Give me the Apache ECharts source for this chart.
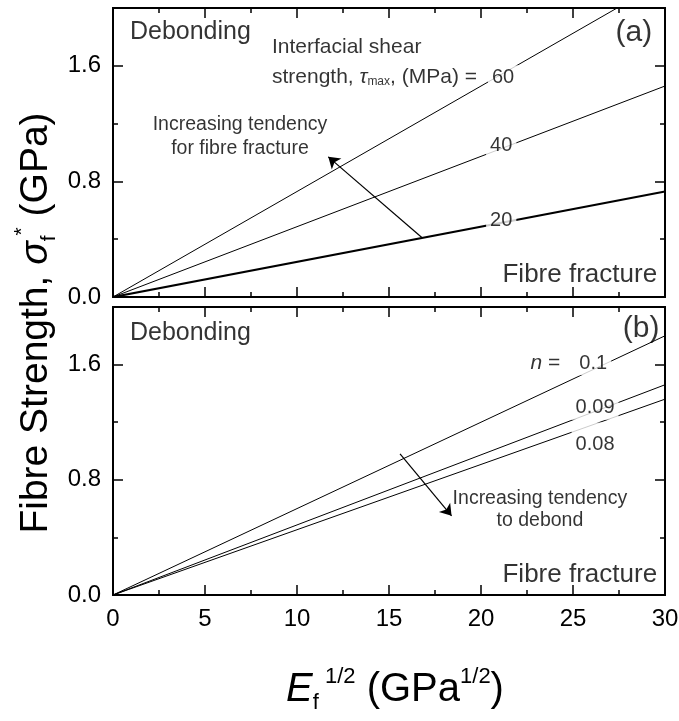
<!DOCTYPE html>
<html>
<head>
<meta charset="utf-8">
<script src="https://cdn.jsdelivr.net/npm/echarts@6/dist/echarts.min.js"></script>
<style>
html, body { margin: 0; padding: 0; background: #fff; }
#chart { width: 679px; height: 721px; }
</style>
</head>
<body>
<div id="chart"></div>
<script>
var FONT = '"Liberation Sans", Arial, sans-serif';

// data
var xExtent = [0, 30];
var yExtent = [0, 2.0];
var tauValues = ['20', '40', '60'];       // MPa, panel (a)
var tauAt30 = [0.73, 1.46, 2.19];         // sigma_f* at E^1/2 = 30
var nValues = ['0.1', '0.09', '0.08'];    // panel (b)
var nAt30 = [1.80, 1.46, 1.36];

var grids = [
    { left: 113, top: 8, width: 552, height: 289, outerBoundsMode: 'none' },
    { left: 113, top: 307, width: 552, height: 288, outerBoundsMode: 'none' }
];

function xAx(grid, pos, labels) {
    return {
        type: 'value', gridIndex: grid, position: pos,
        min: xExtent[0], max: xExtent[1], interval: 5,
        axisLine: { show: true, onZero: false, lineStyle: { color: '#000', width: 2 } },
        axisTick: { show: true, inside: true, length: 10, lineStyle: { color: '#000', width: 1.5 } },
        minorTick: { show: true, splitNumber: 2, length: 5, lineStyle: { color: '#000', width: 1.5 } },
        axisLabel: { show: labels, margin: 12, fontSize: 24, color: '#000', fontFamily: FONT },
        splitLine: { show: false }, minorSplitLine: { show: false }
    };
}

function yAx(grid, pos, major, labels) {
    return {
        type: 'value', gridIndex: grid, position: pos,
        min: yExtent[0], max: yExtent[1], interval: major ? 0.8 : 0.4,
        axisLine: { show: true, onZero: false, lineStyle: { color: '#000', width: 2 } },
        axisTick: { show: true, inside: true, length: major ? 10 : 5, lineStyle: { color: '#000', width: 1.5 } },
        axisLabel: {
            show: labels, margin: 12, fontSize: 24, color: '#000', fontFamily: FONT,
            formatter: function (v) {
                return Math.round(v * 10) % 8 === 0 ? v.toFixed(1) : '';
            }
        },
        splitLine: { show: false }
    };
}

var xAxes = [xAx(0, 'bottom', false), xAx(0, 'top', false), xAx(1, 'bottom', true), xAx(1, 'top', false)];
var yAxes = [];
[0, 1].forEach(function (g) {
    yAxes.push(yAx(g, 'left', true, true));
    yAxes.push(yAx(g, 'left', false, false));
    yAxes.push(yAx(g, 'right', true, false));
    yAxes.push(yAx(g, 'right', false, false));
});

var rich = {
    i: { fontStyle: 'italic', fontFamily: FONT, fontSize: 21, color: '#000' },
    s: { fontFamily: FONT, fontSize: 12, color: '#000', verticalAlign: 'bottom', lineHeight: 14 }
};

function note(x, y, text, opts) {
    return {
        value: [x, y],
        label: Object.assign({
            show: true, formatter: text, position: 'inside', align: 'left', verticalAlign: 'middle',
            color: '#000', fontFamily: FONT, fontSize: 21, rich: rich
        }, opts || {})
    };
}

var numBox = { align: 'center', fontSize: 20, backgroundColor: '#fff', padding: [2, 4] };

function arrow(from, to) {
    return {
        silent: true, symbol: ['none', 'arrow'], symbolSize: 11,
        lineStyle: { color: '#000', width: 1.2, type: 'solid' },
        label: { show: false }, animation: false,
        data: [[{ coord: from }, { coord: to }]]
    };
}

var series = [];
tauValues.forEach(function (t, k) {
    series.push({
        name: 'tau ' + t, type: 'line', xAxisIndex: 0, yAxisIndex: 0,
        data: [[xExtent[0], 0], [xExtent[1], tauAt30[k]]],
        symbol: 'none', lineStyle: { color: '#000', width: k === 0 ? 2.2 : 1 }, z: 2
    });
});
nValues.forEach(function (n, k) {
    series.push({
        name: 'n ' + n, type: 'line', xAxisIndex: 2, yAxisIndex: 4,
        data: [[xExtent[0], 0], [xExtent[1], nAt30[k]]],
        symbol: 'none', lineStyle: { color: '#000', width: 1 }, z: 2
    });
});

series.push({
    type: 'scatter', xAxisIndex: 0, yAxisIndex: 0, symbolSize: 0, z: 5, silent: true,
    data: [
        note(0.92, 1.83, 'Debonding', { fontSize: 25 }),
        note(29.3, 1.83, '(a)', { align: 'right', fontSize: 30 }),
        note(8.64, 1.73, 'Interfacial shear'),
        note(8.64, 1.52, 'strength, {i|τ}{s|max}, (MPa) = '),
        note(21.2, 1.52, tauValues[2], numBox),
        note(21.1, 1.05, tauValues[1], numBox),
        note(21.1, 0.53, tauValues[0], numBox),
        note(6.9, 1.11, 'Increasing tendency\nfor fibre fracture', { align: 'center', fontSize: 19.5, lineHeight: 24 }),
        note(29.57, 0.152, 'Fibre fracture', { align: 'right', fontSize: 26 })
    ],
    markLine: arrow([16.8, 0.41], [11.7, 0.97])
});

series.push({
    type: 'scatter', xAxisIndex: 2, yAxisIndex: 4, symbolSize: 0, z: 5, silent: true,
    data: [
        note(0.92, 1.82, 'Debonding', { fontSize: 25 }),
        note(29.7, 1.85, '(b)', { align: 'right', fontSize: 30 }),
        note(23.5, 1.61, '{i|n} =', { align: 'center' }),
        note(26.1, 1.61, nValues[0], numBox),
        note(26.2, 1.30, nValues[1], numBox),
        note(26.2, 1.08, nValues[2], Object.assign({}, numBox, { padding: [12, 4, 2, 4] })),
        note(23.2, 0.59, 'Increasing tendency\nto debond', { align: 'center', fontSize: 19.5, lineHeight: 22 }),
        note(29.57, 0.14, 'Fibre fracture', { align: 'right', fontSize: 26 })
    ],
    markLine: arrow([15.6, 0.98], [18.4, 0.55])
});

function titleRich(size) {
    var small = Math.round(size * 0.55);
    return {
        m: { fontFamily: FONT, fontSize: size, fill: '#000', lineHeight: 48 },
        i: { fontFamily: FONT, fontSize: size, fontStyle: 'italic', fill: '#000', lineHeight: 48 },
        sub: { fontFamily: FONT, fontSize: small, fill: '#000', verticalAlign: 'bottom', lineHeight: 22 },
        sup: { fontFamily: FONT, fontSize: small, fill: '#000', verticalAlign: 'top', lineHeight: 22 }
    };
}

var chart = echarts.init(document.getElementById('chart'), null, { renderer: 'canvas' });
chart.setOption({
    backgroundColor: '#fff',
    animation: false,
    grid: grids,
    xAxis: xAxes,
    yAxis: yAxes,
    series: series,
    graphic: [
        {
            type: 'text', x: 36, y: 323, rotation: Math.PI / 2,
            style: {
                text: '{m|Fibre Strength, }{i|σ}{sub|f}{sup|*}{m| (GPa)}',
                rich: titleRich(39), align: 'center', verticalAlign: 'middle', fill: '#000'
            }
        },
        {
            type: 'text', x: 395, y: 690,
            style: {
                text: '{i|E}{sub|f}{sup| 1/2}{m| (GPa}{sup|1/2}{m|)}',
                rich: titleRich(40), align: 'center', verticalAlign: 'middle', fill: '#000'
            }
        }
    ]
});
</script>
</body>
</html>
